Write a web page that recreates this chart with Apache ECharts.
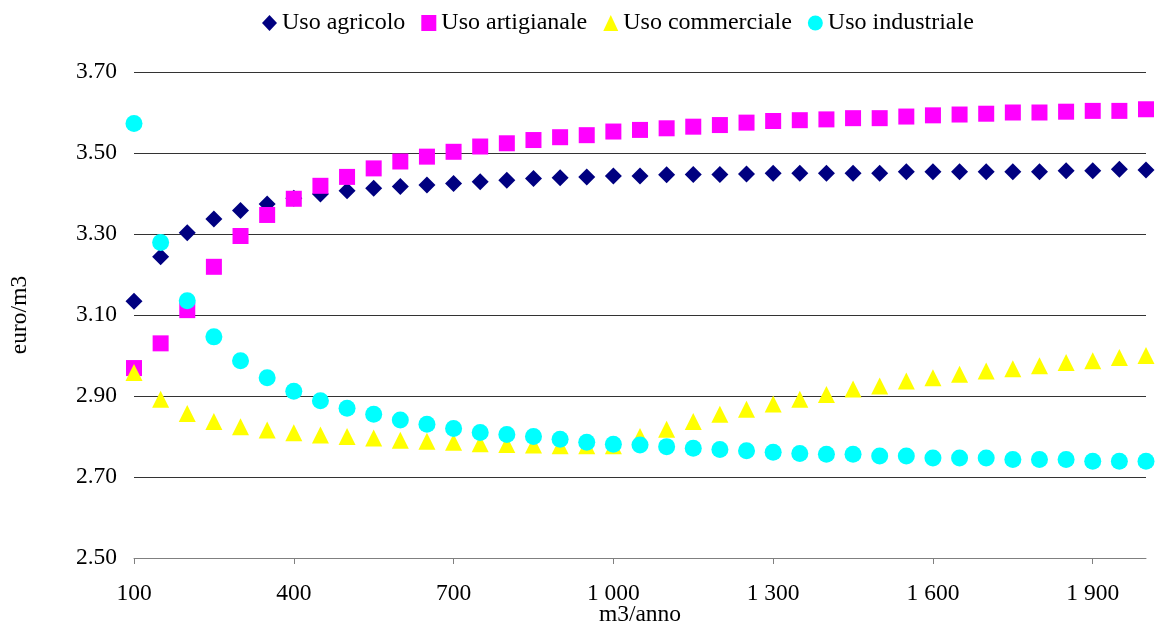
<!DOCTYPE html>
<html>
<head>
<meta charset="utf-8">
<script src="https://cdn.jsdelivr.net/npm/echarts@6/dist/echarts.min.js"></script>
<style>
html,body{margin:0;padding:0;background:#fff;}
#chart{width:1155px;height:631px;}
</style>
</head>
<body>
<div id="chart"></div>
<script>
// m3/anno consumption levels
var volumes = [100,150,200,250,300,350,400,450,500,550,600,650,700,750,800,850,900,950,1000,
  1050,1100,1150,1200,1250,1300,1350,1400,1450,1500,1550,1600,1650,1700,1750,1800,1850,1900,1950,2000];

var usoAgricolo = [3.134,3.244,3.303,3.337,3.358,3.374,3.388,3.399,3.407,3.413,3.417,3.421,3.425,3.429,3.433,3.437,3.439,3.441,3.443,
  3.443,3.446,3.447,3.447,3.448,3.450,3.450,3.450,3.450,3.450,3.454,3.454,3.454,3.454,3.454,3.454,3.456,3.456,3.460,3.458];

var usoArtigianale = [2.969,3.030,3.112,3.219,3.295,3.347,3.387,3.419,3.441,3.462,3.479,3.491,3.503,3.516,3.524,3.532,3.539,3.544,3.553,
  3.557,3.561,3.565,3.569,3.575,3.579,3.581,3.583,3.586,3.586,3.590,3.593,3.595,3.597,3.600,3.600,3.602,3.604,3.604,3.608];

var usoCommerciale = [2.958,2.892,2.857,2.837,2.824,2.816,2.809,2.804,2.800,2.796,2.791,2.788,2.786,2.782,2.780,2.779,2.777,2.777,2.777,
  2.800,2.818,2.837,2.855,2.867,2.880,2.892,2.904,2.917,2.925,2.937,2.945,2.954,2.962,2.967,2.975,2.983,2.987,2.995,3.000];

var usoIndustriale = [3.573,3.279,3.135,3.046,2.987,2.945,2.912,2.888,2.870,2.855,2.841,2.830,2.820,2.810,2.805,2.800,2.793,2.786,2.781,
  2.779,2.775,2.771,2.768,2.765,2.761,2.758,2.756,2.756,2.752,2.752,2.747,2.747,2.747,2.743,2.743,2.743,2.739,2.739,2.739];

var xTickValues = [100,400,700,1000,1300,1600,1900];
var seriesNames = ['Uso agricolo','Uso artigianale','Uso commerciale','Uso industriale'];

function pairs(vals){ return volumes.map(function(x,i){ return [x, vals[i]]; }); }

var FONT = '"Liberation Serif","Times New Roman",serif';
var chart = echarts.init(document.getElementById('chart'), null, {renderer:'canvas'});

function fmtThousands(v){
  var s = String(Math.round(v));
  return s.replace(/\B(?=(\d{3})+(?!\d))/g, ' ');
}

var option = {
  animation: false,
  backgroundColor: '#fff',
  textStyle: {fontFamily: FONT},
  legend: {
    data: seriesNames,
    left: 257,
    top: 6,
    itemWidth: 15,
    itemHeight: 16,
    itemGap: 16,
    textStyle: {fontFamily: FONT, fontSize: 24, color: '#000'}
  },
  grid: {left: 134, right: 9, top: 72, bottom: 73, containLabel: false, outerBoundsMode: 'none'},
  xAxis: {
    type: 'value',
    min: 100, max: 2000, interval: 300,
    name: 'm3/anno',
    nameLocation: 'middle',
    nameGap: 45,
    nameMoveOverlap: false,
    nameTextStyle: {fontFamily: FONT, fontSize: 23.5, color: '#000'},
    axisLine: {show: true, lineStyle: {color: '#808080', width: 1}},
    axisTick: {show: true, length: 6, inside: false, customValues: xTickValues, lineStyle: {color: '#808080'}},
    axisLabel: {customValues: xTickValues, margin: 24, fontFamily: FONT, fontSize: 23.5, color: '#000',
      formatter: function(v){ return fmtThousands(v); }},
    splitLine: {show: false}
  },
  yAxis: {
    type: 'value',
    min: 2.5, max: 3.7, interval: 0.2,
    name: 'euro/m3',
    nameLocation: 'middle',
    nameGap: 102,
    nameMoveOverlap: false,
    nameTextStyle: {fontFamily: FONT, fontSize: 23.5, color: '#000'},
    axisLine: {show: false},
    axisTick: {show: false},
    axisLabel: {margin: 17, fontFamily: FONT, fontSize: 23.5, color: '#000',
      formatter: function(v){ return v.toFixed(2); }},
    splitLine: {show: true, lineStyle: {color: '#333', width: 1}}
  },
  series: [
    {name: seriesNames[0], type: 'scatter', symbol: 'diamond', symbolSize: 17,
     itemStyle: {color: '#000080', opacity: 1}, data: pairs(usoAgricolo)},
    {name: seriesNames[1], type: 'scatter', symbol: 'rect', symbolSize: 16,
     itemStyle: {color: '#FF00FF', opacity: 1}, data: pairs(usoArtigianale)},
    {name: seriesNames[2], type: 'scatter', symbol: 'triangle', symbolSize: 17,
     itemStyle: {color: '#FFFF00', opacity: 1}, data: pairs(usoCommerciale)},
    {name: seriesNames[3], type: 'scatter', symbol: 'circle', symbolSize: 17,
     itemStyle: {color: '#00FFFF', opacity: 1}, data: pairs(usoIndustriale)}
  ]
};
chart.setOption(option);
</script>
</body>
</html>
